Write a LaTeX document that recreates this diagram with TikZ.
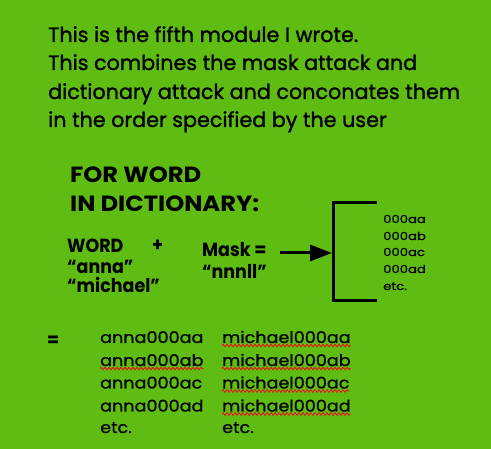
\documentclass[tikz,border=0pt]{standalone}
\usepackage{fontspec}
\setmainfont{Poppins}
\newfontfamily\introfont{Poppins}[FakeBold=1.2]
\newfontfamily\headfont{Poppins}[FakeStretch=1.1]
\newfontfamily\wordfont{Poppins}[FakeStretch=0.92]
\newfontfamily\listfont{Poppins}[FakeStretch=1.2, FakeBold=0.8]
\newfontfamily\combofont{Poppins}[FakeStretch=1.1, FakeBold=0.8]
\usetikzlibrary{arrows.meta, decorations.pathmorphing}
\definecolor{bggreen}{RGB}{95,188,18}
\definecolor{squiggle}{RGB}{225,25,25}

\tikzset{
    intro/.style={anchor=base west, inner sep=0pt, font=\introfont\fontsize{20.7}{25}\selectfont},
    heading/.style={anchor=base west, inner sep=0pt, font=\headfont\bfseries\fontsize{22}{26}\selectfont},
    word/.style={anchor=base west, inner sep=0pt, font=\wordfont\bfseries\fontsize{19}{22}\selectfont},
    small/.style={anchor=base west, inner sep=0pt, font=\listfont\fontsize{11}{13}\selectfont},
    combo/.style={anchor=base west, inner sep=0pt, font=\combofont\fontsize{16}{19}\selectfont},
    typo/.style={squiggle, line width=0.9pt, decorate, decoration={zigzag, amplitude=1.3pt, segment length=4pt}}
}

\begin{document}
\begin{tikzpicture}[x=1pt,y=-1pt]
    \fill[bggreen] (0,0) rectangle (491,449);
    \useasboundingbox (0,0) rectangle (491,449);

    % description
    \node[intro] (line1) at (48,42) {This is the fifth module I wrote.};
    \node[intro] (line2) at (48,70) {This combines the mask attack and};
    \node[intro] (line3) at (48,99) {dictionary attack and conconates them};
    \node[intro] (line4) at (48,127) {in the order specified by the user};

    % loop header
    \node[heading] (for) at (70,183) {FOR WORD};
    \node[heading] (dict) at (70,212) {IN DICTIONARY:};

    \node[word] (word) at (67,253) {WORD};
    \node[word] (anna) at (67,274) {“anna”};
    \node[word] (michael) at (67,293) {“michael”};
    \node[word] (plus) at (152,252) {+};
    \node[word] (mask) at (202,257) {Mask =};
    \node[word] (nnnll) at (202,279) {“nnnll”};

    % bracket with the mask values
    \coordinate (top) at (377,203);
    \coordinate (bot) at (377,301);
    \draw[line width=3pt] (top) -- (333,203) -- (333,301) -- (bot);
    \coordinate (start) at (280,253);
    \coordinate (tip) at (332,253);
    \draw[line width=3pt, -{Triangle[length=22pt, width=16pt]}] (start) -- (tip);

    \node[small] (m1) at (383,223) {000aa};
    \node[small] (m2) at (383,240) {000ab};
    \node[small] (m3) at (383,256) {000ac};
    \node[small] (m4) at (383,273) {000ad};
    \node[small] (m5) at (383,290) {etc.};

    % result
    \node[word] (equals) at (47,347) {=};
    \node[combo] (a1) at (100,343) {anna000aa};
    \node[combo] (a2) at (100,366) {anna000ab};
    \node[combo] (a3) at (100,388.5) {anna000ac};
    \node[combo] (a4) at (100,411.5) {anna000ad};
    \node[combo] (a5) at (100,433) {etc.};
    \node[combo] (b1) at (222,343) {michael000aa};
    \node[combo] (b2) at (222,366) {michael000ab};
    \node[combo] (b3) at (222,388.5) {michael000ac};
    \node[combo] (b4) at (222,411.5) {michael000ad};
    \node[combo] (b5) at (222,433) {etc.};

    % spell check marks
    \draw[typo] ([yshift=-2.5pt]a2.base west) -- ([yshift=-2.5pt]a2.base east);
    \foreach \n in {b1,b2,b3,b4}
        \draw[typo] ([yshift=-2.5pt]\n.base west) -- ([yshift=-2.5pt]\n.base east);
\end{tikzpicture}
\end{document}
